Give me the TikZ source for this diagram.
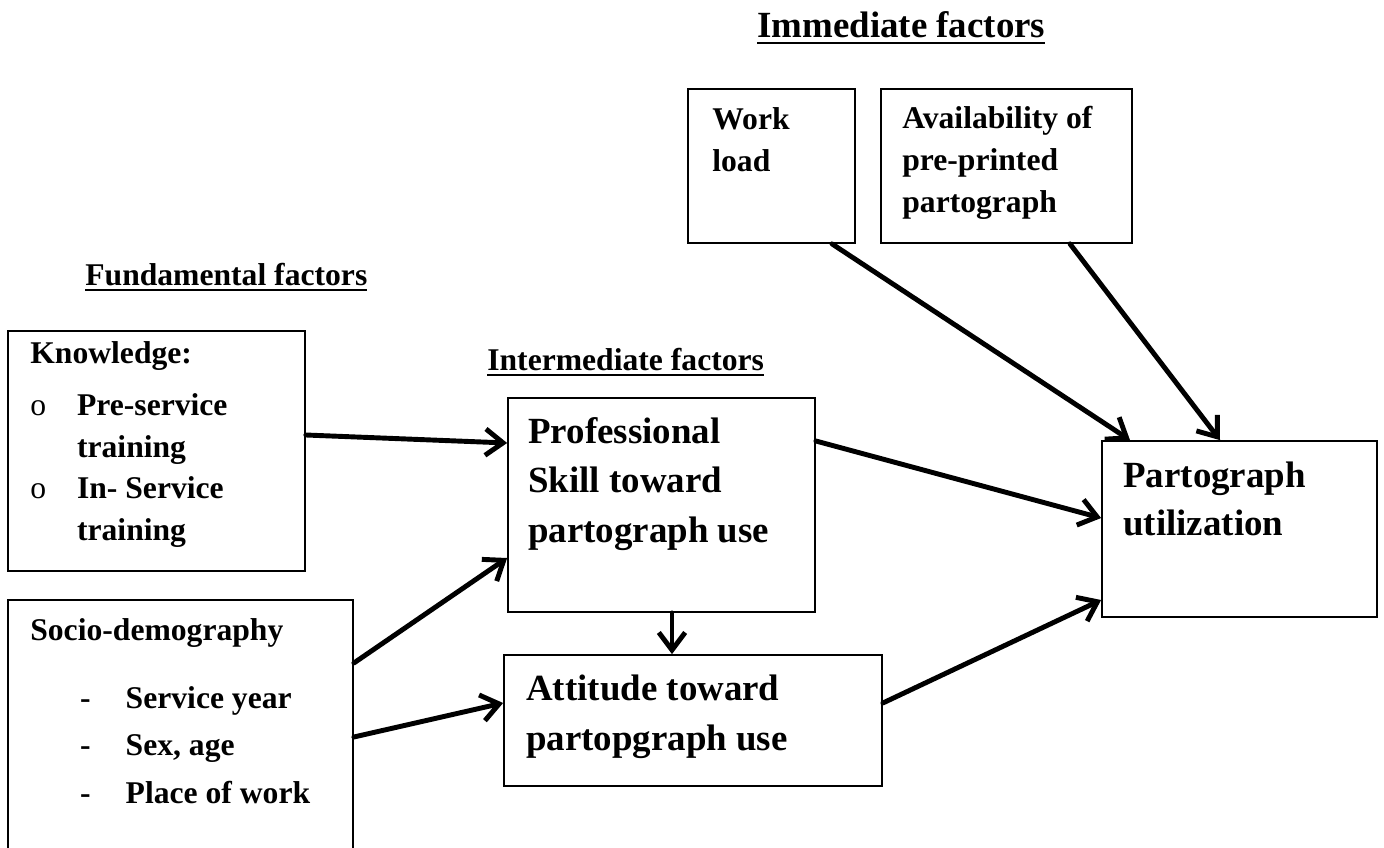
\documentclass[tikz,border=0pt]{standalone}
\usepackage{fontspec}
\setmainfont{Liberation Serif}
\usetikzlibrary{arrows.meta, fit}

% subrayado grueso para los titulos
\newcommand{\titul}[1]{\setbox0=\hbox{#1}\rlap{\rule[-3.6pt]{\wd0}{1.5pt}}\box0}

\begin{document}
\begin{tikzpicture}[
    x=0.02cm, y=-0.02cm,
    % Definición de estilos
    caja/.style={draw, line width=1pt, inner sep=0pt},
    txt small/.style={anchor=base west, align=left, inner sep=0pt, font=\bfseries\fontsize{18}{24}\selectfont},
    txt big/.style={anchor=base west, align=left, inner sep=0pt, font=\bfseries\fontsize{21}{28}\selectfont},
    titulo/.style={anchor=base west, inner sep=0pt, font=\bfseries\fontsize{18}{22}\selectfont},
    flecha/.style={-{Straight Barb[length=10pt, width=15pt]}, line width=2.8pt, line cap=round} % conexiones
]
    \useasboundingbox (0,0) rectangle (1384,848);

    % =========================================================================
    % 1. Titulos de los niveles
    % =========================================================================
    \node[titulo, font=\bfseries\fontsize{21}{24}\selectfont] (t-imm) at (757,38) {\titul{Immediate factors}};
    \node[titulo] (t-fund) at (85,285) {\titul{Fundamental factors}};
    \node[titulo] (t-inter) at (487,370) {\titul{Intermediate factors}};

    % =========================================================================
    % 2. Cajas
    % =========================================================================
    \node[caja, fit={(8,331) (305,571)}] (know) {};
    \node[caja, fit={(8,600) (353,880)}] (socio) {}; % cortada por el borde inferior
    \node[caja, fit={(508,398) (815,612)}] (skill) {};
    \node[caja, fit={(504,655) (882,786)}] (attit) {};
    \node[caja, fit={(688,89) (855,243)}] (work) {};
    \node[caja, fit={(881,89) (1132,243)}] (avail) {};
    \node[caja, fit={(1102,441) (1377,617)}] (util) {};

    % =========================================================================
    % 3. Textos dentro de las cajas (anclados en la linea base de la ultima linea)
    % =========================================================================
    \node[txt small, font=\bfseries\fontsize{18}{23.6}\selectfont] (t-know) at (30,540)
        {Knowledge:\\[6pt]
         \makebox[26.6pt][l]{\mdseries o}Pre-service\\
         \hspace*{26.6pt}training\\
         \makebox[26.6pt][l]{\mdseries o}In- Service\\
         \hspace*{26.6pt}training};
    \node[txt small, font=\bfseries\fontsize{18}{27}\selectfont] (t-socio) at (30,803)
        {Socio-demography\\[11.5pt]
         \hspace*{28.3pt}\makebox[26pt][l]{-}Service year\\
         \hspace*{28.3pt}\makebox[26pt][l]{-}Sex, age\\
         \hspace*{28.3pt}\makebox[26pt][l]{-}Place of work};
    \node[txt big] (t-skill) at (528,542) {Professional\\Skill toward\\partograph use};
    \node[txt big] (t-attit) at (526,750) {Attitude toward\\partopgraph use};
    \node[txt small, font=\bfseries\fontsize{18}{24.4}\selectfont] (t-work) at (712,172) {Work\\load};
    \node[txt small] (t-avail) at (902,213) {Availability of\\pre-printed\\partograph};
    \node[txt big, font=\bfseries\fontsize{21}{27.2}\selectfont] (t-util) at (1123,535) {Partograph\\utilization};

    % =========================================================================
    % 4. Flechas
    % =========================================================================
    \draw[flecha] (know.east |- 0,435) -- (skill.west |- 0,443);
    \draw[flecha] (socio.east |- 0,663) -- (skill.west |- 0,558);
    \draw[flecha] (socio.east |- 0,737) -- (attit.west |- 0,703);
    \draw[flecha] (skill.south -| 672,0) -- (attit.north -| 672,0);
    \draw[flecha] (skill.east |- 0,441) -- (util.west |- 0,518);
    \draw[flecha] (attit.east |- 0,703) -- (util.west |- 0,600);
    \draw[flecha] (work.south -| 832,0) -- (util.north -| 1130,0);
    \draw[flecha] (avail.south -| 1070,0) -- (util.north -| 1220,0);

\end{tikzpicture}
\end{document}
